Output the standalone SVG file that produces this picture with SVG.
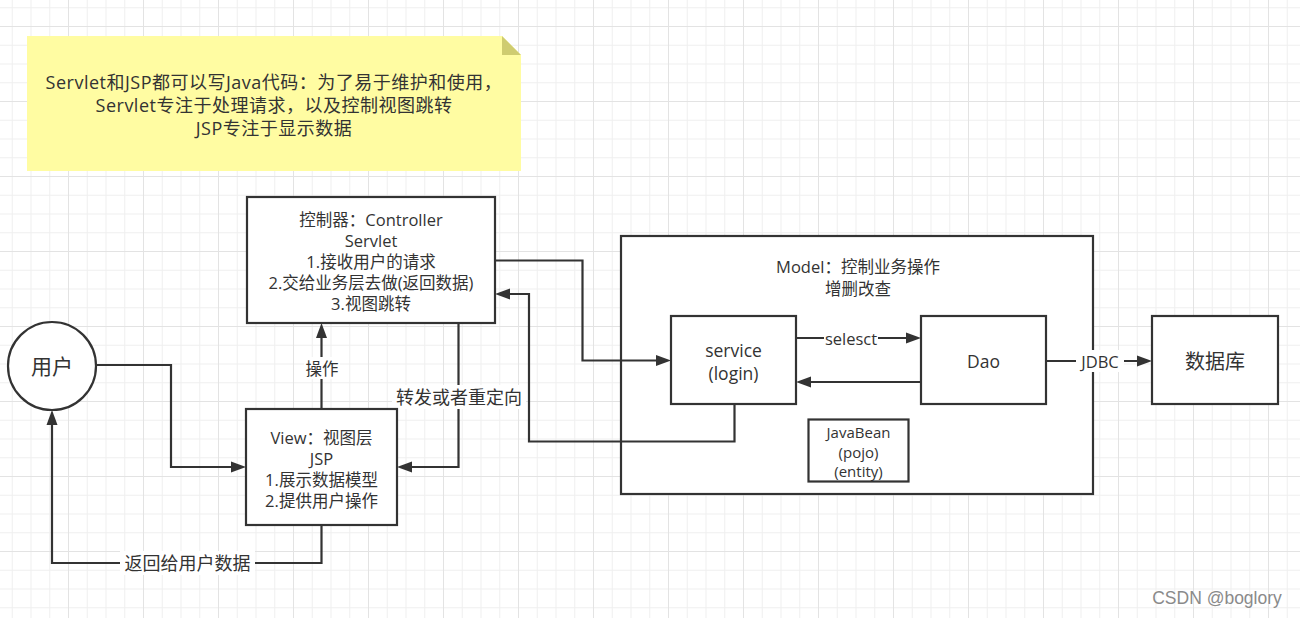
<svg xmlns="http://www.w3.org/2000/svg" width="1300" height="618" viewBox="0 0 1300 618">
<defs>
<pattern id="grid" patternUnits="userSpaceOnUse" x="68" y="26" width="75" height="75">
<path d="M19.25 0V75M38 0V75M56.75 0V75M0 19.25H75M0 38H75M0 56.75H75" stroke="#efefef" stroke-width="1" fill="none"/>
<path d="M0.5 0V75M0 0.5H75" stroke="#e3e3e3" stroke-width="1" fill="none"/>
</pattern>
<marker id="arr" markerUnits="userSpaceOnUse" markerWidth="16" markerHeight="12" refX="5" refY="6" orient="auto">
<path d="M0,0.5 L15,6 L0,11.5 z" fill="#333333"/>
</marker>
<style>
text{font-family:"Open Sans","Noto Sans CJK SC",sans-serif;fill:#333333;text-anchor:middle;dominant-baseline:central}
.box{fill:#ffffff;stroke:#333333;stroke-width:2.2}
.edge{fill:none;stroke:#333333;stroke-width:2.2;marker-end:url(#arr)}
.lbl{fill:#ffffff}
.t16{font-size:16.5px}
.t18{font-size:18px;letter-spacing:0.5px}
</style>
</defs>
<rect width="1300" height="618" fill="#ffffff"/>
<rect width="1300" height="618" fill="url(#grid)"/>

<g id="note">
<path d="M27 36H502L521 55V171H27Z" fill="#fffca2"/>
<path d="M502 36V55H521Z" fill="#cfcc70"/>
<text class="t18" x="274" y="82">Servlet和JSP都可以写Java代码：为了易于维护和使用，</text>
<text class="t18" x="274" y="105">Servlet专注于处理请求，以及控制视图跳转</text>
<text class="t18" x="274" y="128">JSP专注于显示数据</text>
</g>

<g id="model">
<rect class="box" x="621" y="236" width="472" height="258"/>
<text class="t16" x="858" y="266">Model：控制业务操作</text>
<text class="t16" x="858" y="288">增删改查</text>
</g>

<g id="connectors">
<path class="edge" d="M97 365H171V467H236"/>
<path class="edge" d="M321.5 525V563H52V420"/>
<rect class="lbl" x="120" y="551" width="135" height="24"/>
<text style="font-size:18px" x="187.5" y="563">返回给用户数据</text>
<path class="edge" d="M321.5 409V333"/>
<rect class="lbl" x="304" y="357" width="36" height="22"/>
<text class="t16" x="322" y="368">操作</text>
<path class="edge" d="M458.5 323V467H407"/>
<rect class="lbl" x="392" y="385" width="134" height="24"/>
<text style="font-size:18px" x="459" y="397">转发或者重定向</text>
<path class="edge" d="M495 260.5H582.5V360.5H661"/>
<path class="edge" d="M734.5 404V441.5H529V294H505"/>
<path class="edge" d="M796 338H911"/>
<rect class="lbl" x="824" y="328" width="54" height="20"/>
<text class="t16" x="851" y="338">selesct</text>
<path class="edge" d="M921 382H806"/>
<path class="edge" d="M1046 361H1142"/>
<rect class="lbl" x="1076" y="350" width="48" height="22"/>
<text class="t16" x="1100" y="361">JDBC</text>
</g>

<g id="user">
<circle cx="52" cy="366" r="44" fill="#ffffff" stroke="#333333" stroke-width="2.2"/>
<text style="font-size:21px" x="52" y="366">用户</text>
</g>

<g id="controller">
<rect class="box" x="247" y="197" width="248" height="126"/>
<text class="t16" x="371" y="219">控制器：Controller</text>
<text class="t16" x="371" y="240">Servlet</text>
<text class="t16" x="371" y="261">1.接收用户的请求</text>
<text class="t16" x="371" y="282">2.交给业务层去做(返回数据)</text>
<text class="t16" x="371" y="303">3.视图跳转</text>
</g>

<g id="view">
<rect class="box" x="246" y="409" width="151" height="116"/>
<text class="t16" x="321.5" y="437">View：视图层</text>
<text class="t16" x="321.5" y="458">JSP</text>
<text class="t16" x="321.5" y="479">1.展示数据模型</text>
<text class="t16" x="321.5" y="500">2.提供用户操作</text>
</g>

<g id="service">
<rect class="box" x="671" y="316" width="125" height="88"/>
<text style="font-size:17.5px" x="733.5" y="350">service</text>
<text style="font-size:17.5px" x="733.5" y="373">(login)</text>
</g>

<g id="dao">
<rect class="box" x="921" y="316" width="125" height="88"/>
<text style="font-size:17.5px" x="983.5" y="361">Dao</text>
</g>

<g id="database">
<rect class="box" x="1152" y="316" width="126" height="88"/>
<text style="font-size:20px" x="1215" y="361">数据库</text>
</g>

<g id="javabean">
<rect class="box" x="808.5" y="419.5" width="100" height="62"/>
<text style="font-size:15px" x="858.5" y="432">JavaBean</text>
<text style="font-size:15px" x="858.5" y="452">(pojo)</text>
<text style="font-size:15px" x="858.5" y="471">(entity)</text>
</g>

<text x="1217" y="598" style="font-family:'Liberation Sans',Arial,sans-serif;font-size:17.5px;fill:#8a8a8a;stroke:#ffffff;stroke-width:0.6;paint-order:stroke">CSDN @boglory</text>
</svg>
